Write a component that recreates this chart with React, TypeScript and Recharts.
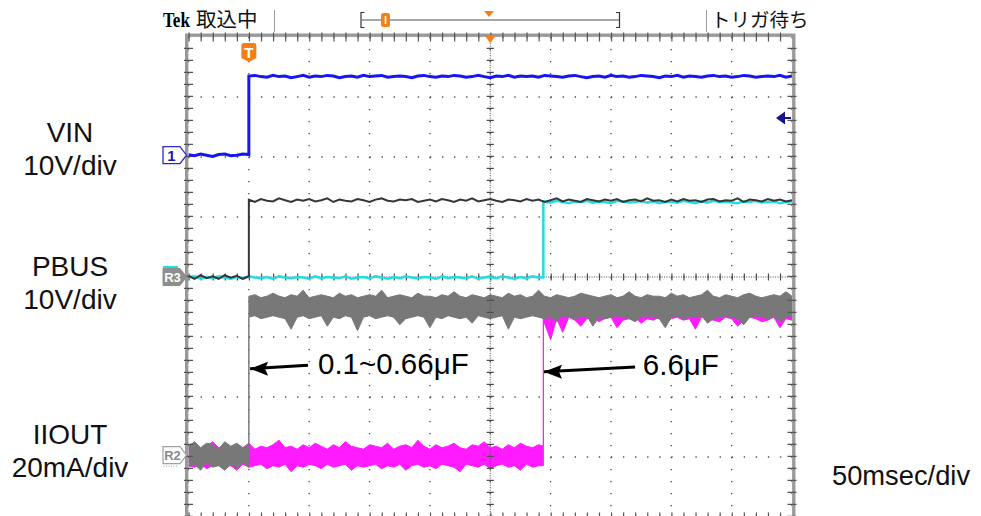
import React from "react";
import {
  ComposedChart,
  Line,
  Area,
  XAxis,
  YAxis,
  CartesianGrid,
  ReferenceLine,
  ReferenceDot,
  ReferenceArea,
} from "recharts";

// ---------- time samples (ms, trigger at 0) ----------
const T_BEFORE = [-50, -45, -40, -35, -30, -25, -20, -15, -10, -5, 0];
const T_AFTER = [
  0, 5, 10, 15, 20, 25, 30, 35, 40, 45, 50, 55, 60, 65, 70, 75, 80, 85, 90, 95,
  100, 105, 110, 115, 120, 125, 130, 135, 140, 145, 150, 155, 160, 165, 170, 175,
  180, 185, 190, 195, 200, 205, 210, 215, 220, 225, 230, 235, 240, 245, 250, 255,
  260, 265, 270, 275, 280, 285, 290, 295, 300, 305, 310, 315, 320, 325, 330, 335,
  340, 345, 350, 355, 360, 365, 370, 375, 380, 385, 390, 395, 400, 405, 410, 415,
  420, 425, 430, 435, 440, 445, 450,
];
const T_LOW2 = [
  -50, -45, -40, -35, -30, -25, -20, -15, -10, -5, 0, 5, 10, 15, 20, 25, 30, 35,
  40, 45, 50, 55, 60, 65, 70, 75, 80, 85, 90, 95, 100, 105, 110, 115, 120, 125,
  130, 135, 140, 145, 150, 155, 160, 165, 170, 175, 180, 185, 190, 195, 200, 205,
  210, 215, 220, 225, 230, 235, 240, 244,
];
const T_HIGH2 = [
  244, 250, 255, 260, 265, 270, 275, 280, 285, 290, 295, 300, 305, 310, 315, 320,
  325, 330, 335, 340, 345, 350, 355, 360, 365, 370, 375, 380, 385, 390, 395, 400,
  405, 410, 415, 420, 425, 430, 435, 440, 445, 450,
];

// ---------- VIN (CH1, V) ----------
const VIN_LOW = [0.1, -0.1, 0.2, 0, -0.2, 0.1, 0.2, -0.1, 0, 0.2, 0.1];
const VIN_HIGH = [
  13.2, 13.3, 13.1, 13.0, 13.3, 13.1, 13.2, 12.9, 13.1, 13.3,
  13.0, 13.2, 13.1, 13.3, 13.2, 12.9, 13.1, 13.2, 13.0, 13.3,
  13.1, 13.2, 13.3, 13.0, 13.1, 13.2, 13.1, 12.9, 13.2, 13.3,
  13.1, 13.0, 13.2, 13.1, 13.3, 13.2, 13.0, 13.1, 13.3, 13.1,
  12.9, 13.2, 13.1, 13.3, 13.0, 13.2, 13.1, 13.2, 13.0, 13.3,
  13.2, 13.1, 13.0, 13.2, 13.3, 13.1, 12.9, 13.1, 13.2, 13.0,
  13.3, 13.1, 13.2, 13.0, 13.1, 13.3, 13.2, 13.1, 12.9, 13.2,
  13.1, 13.3, 13.0, 13.2, 13.1, 13.0, 13.2, 13.3, 13.1, 13.2,
  13.0, 13.1, 13.3, 13.2, 13.0, 13.1, 13.2, 13.1, 13.3, 13.0,
  13.2,
];

// ---------- PBUS, reference R3 (V) ----------
const R3_LOW = [0.2, -0.3, 0.3, -0.2, 0.1, -0.3, 0.3, -0.1, 0.2, -0.3, 0.1];
const R3_HIGH = [
  12.9, 12.5, 13.0, 12.7, 12.6, 13.1, 12.8, 12.5, 12.9, 12.7,
  13.0, 12.6, 12.8, 13.1, 12.5, 12.9, 12.7, 12.6, 13.0, 12.8,
  12.5, 12.9, 13.1, 12.7, 12.6, 12.9, 12.8, 13.0, 12.5, 12.7,
  12.9, 12.6, 13.0, 12.8, 12.5, 12.9, 12.7, 13.1, 12.6, 12.8,
  13.0, 12.7, 12.5, 12.9, 12.8, 12.6, 13.0, 12.7, 12.9, 12.5,
  12.8, 13.1, 12.6, 12.9, 12.7, 12.5, 13.0, 12.8, 12.6, 12.9,
  12.7, 13.0, 12.5, 12.8, 12.9, 12.6, 13.1, 12.7, 12.8, 12.5,
  12.9, 12.6, 13.0, 12.7, 12.8, 12.5, 12.9, 13.0, 12.6, 12.8,
  12.7, 13.1, 12.5, 12.9, 12.8, 12.6, 13.0, 12.7, 12.9, 12.6,
  12.8,
];

// ---------- PBUS, live 6.6uF (V) ----------
const CYAN_LOW = [
  -0.1, 0.1, -0.3, 0.0, -0.2, 0.1, -0.1, -0.3, 0.0, -0.2,
  0.1, -0.1, -0.2, 0.0, -0.3, 0.1, -0.1, -0.2, 0.0, -0.1,
  -0.3, 0.1, -0.2, 0.0, -0.1, -0.2, 0.1, -0.3, -0.1, 0.0,
  -0.2, 0.1, -0.1, -0.3, 0.0, -0.2, 0.1, -0.1, -0.2, 0.0,
  -0.1, -0.3, 0.1, -0.2, 0.0, -0.1, -0.2, 0.1, -0.3, -0.1,
  0.0, -0.2, 0.1, -0.1, -0.3, 0.0, -0.2, 0.1, -0.1, -0.1,
];
const CYAN_HIGH = [
  12.6, 12.4, 12.7, 12.5, 12.3, 12.6, 12.5, 12.7, 12.4, 12.6,
  12.5, 12.3, 12.7, 12.6, 12.4, 12.5, 12.7, 12.4, 12.6, 12.3,
  12.5, 12.6, 12.4, 12.7, 12.5, 12.3, 12.6, 12.4, 12.7, 12.5,
  12.6, 12.4, 12.3, 12.6, 12.5, 12.7, 12.4, 12.5, 12.6, 12.3,
  12.5, 12.6,
];

// ---------- IIOUT, reference R2 (mA, noise envelope) ----------
const R2_LO_LOW = [-4, -3, -5, -2.5, -4, -3.5, -5, -3, -4.5, -2.5, -4];
const R2_HI_LOW = [3, 4.5, 2.5, 4, 3.5, 2, 4.5, 3, 4, 2.5, 3.5];
const R2_LO_HIGH = [
  46.0, 46.5, 45.5, 46.0, 46.5, 46.0, 45.5, 42.0, 46.0, 46.5,
  45.5, 46.0, 46.5, 43.0, 46.0, 45.5, 46.5, 46.0, 41.5, 46.0,
  46.5, 45.5, 46.0, 46.5, 46.0, 43.5, 45.5, 46.0, 46.5, 46.0,
  42.5, 46.0, 45.5, 46.5, 46.0, 45.5, 46.0, 44.0, 46.5, 46.0,
  45.5, 46.0, 46.5, 42.0, 46.0, 45.5, 46.0, 46.5, 46.0, 45.5,
  46.0, 44.5, 46.5, 46.0, 45.5, 46.0, 46.5, 43.0, 46.0, 45.5,
  46.0, 46.5, 46.0, 45.5, 44.5, 46.0, 46.5, 46.0, 45.5, 42.5,
  46.0, 46.5, 45.5, 46.0, 46.0, 46.5, 44.0, 45.5, 46.0, 46.5,
  46.0, 45.5, 43.5, 46.0, 46.5, 46.0, 45.5, 46.0, 44.5, 46.0,
  46.5,
];
const R2_HI_HIGH = [
  53.0, 53.5, 52.5, 53.0, 54.0, 53.0, 52.5, 53.5, 53.0, 55.0,
  52.5, 53.0, 53.5, 53.0, 52.5, 54.0, 53.0, 53.5, 52.5, 53.0,
  53.5, 53.0, 55.0, 52.5, 53.0, 53.5, 53.0, 52.5, 54.0, 53.0,
  53.0, 52.5, 53.5, 53.0, 54.5, 53.0, 52.5, 53.5, 53.0, 52.5,
  53.5, 53.0, 52.5, 54.0, 53.0, 53.5, 52.5, 53.0, 55.0, 53.0,
  52.5, 53.5, 53.0, 52.5, 53.0, 54.0, 53.5, 53.0, 52.5, 53.0,
  53.5, 52.5, 53.0, 54.5, 53.0, 52.5, 53.5, 53.0, 53.0, 52.5,
  54.0, 53.0, 53.5, 52.5, 53.0, 53.5, 55.0, 53.0, 52.5, 53.5,
  53.0, 52.5, 53.5, 54.0, 53.0, 52.5, 53.0, 53.5, 53.0, 54.5,
  53.0,
];

// ---------- IIOUT, live 6.6uF (mA, noise envelope) ----------
const MAG_LO_LOW = [
  -3.5, -4.0, -3.0, -4.5, -3.5, -3.0, -4.0, -3.5, -5.0, -3.0,
  -4.0, -3.5, -3.0, -4.5, -3.5, -4.0, -3.0, -5.5, -3.5, -4.0,
  -3.0, -3.5, -4.5, -3.0, -4.0, -3.5, -3.0, -5.0, -3.5, -4.0,
  -3.5, -3.0, -4.5, -3.5, -4.0, -3.0, -5.0, -3.5, -3.0, -4.0,
  -3.5, -4.5, -3.0, -3.5, -4.0, -5.5, -3.0, -3.5, -4.0, -3.0,
  -4.5, -3.5, -3.0, -4.0, -3.5, -5.0, -3.0, -4.0, -3.5, -3.5,
];
const MAG_HI_LOW = [
  2.5, 3.5, 2.0, 3.0, 4.5, 2.5, 3.0, 2.0, 3.5, 2.5,
  4.0, 2.0, 3.0, 2.5, 3.5, 5.0, 2.5, 3.0, 2.0, 3.5,
  2.5, 4.0, 3.0, 2.0, 3.5, 2.5, 4.5, 3.0, 2.5, 2.0,
  3.5, 3.0, 2.5, 4.0, 2.0, 3.0, 3.5, 2.5, 5.0, 3.0,
  2.0, 3.5, 2.5, 3.0, 4.0, 2.5, 2.0, 3.5, 3.0, 4.5,
  2.5, 3.0, 2.0, 3.5, 2.5, 4.0, 3.0, 2.5, 3.5, 3.0,
];
const MAG_LO_HIGH = [
  45.0, 38.5, 45.5, 41.0, 46.0, 45.0, 43.0, 45.5, 46.0, 44.5,
  45.5, 46.0, 42.5, 45.0, 45.5, 46.0, 44.0, 45.5, 45.0, 46.0,
  43.5, 45.5, 46.0, 45.0, 45.5, 42.0, 46.0, 45.5, 45.0, 44.5,
  46.0, 45.5, 43.0, 45.0, 46.0, 45.5, 44.5, 45.0, 46.0, 42.5,
  45.5, 45.0,
];
const MAG_HI_HIGH = [
  50.5, 52.0, 51.0, 53.0, 50.0, 51.5, 50.5, 52.5, 51.0, 50.0,
  51.5, 50.5, 52.0, 51.0, 50.5, 53.0, 50.0, 51.5, 51.0, 52.0,
  50.5, 51.0, 52.5, 50.0, 51.5, 50.5, 51.0, 52.0, 50.5, 51.5,
  53.0, 50.0, 51.0, 51.5, 50.5, 52.0, 51.0, 50.5, 51.5, 50.0,
  51.0, 50.5,
];

// ---------- axes / scope settings ----------
const X_DOMAIN: [number, number] = [-50, 450]; // 50 ms/div, 10 div
const X_DIVS = [-50, 0, 50, 100, 150, 200, 250, 300, 350, 400, 450];
const Y_DIVS = [-4, -3, -2, -1, 0, 1, 2, 3, 4];
const DIV_DOMAIN: [number, number] = [-4, 4];
const VIN_DOMAIN: [number, number] = [-60.3, 19.7]; // 10 V/div
const PBUS_DOMAIN: [number, number] = [-40, 40]; // 10 V/div
const IOUT_DOMAIN: [number, number] = [-20.6, 139.4]; // 20 mA/div
const TRIG_LEVEL_V = 6.2;
const STEP2_MS = 244;

const CHANNEL_LABELS = [
  { name: "VIN", scale: "10V/div" },
  { name: "PBUS", scale: "10V/div" },
  { name: "IIOUT", scale: "20mA/div" },
];
const TIMEBASE_LABEL = "50msec/div";
const NOTES = [
  { text: "0.1~0.66μF", tip: { x: 1, y: -1.53 }, tail: { x: 49, y: -1.47 }, at: { x: 57.3, y: -1.62 } },
  { text: "6.6μF", tip: { x: STEP2_MS + 0.5, y: -1.58 }, tail: { x: 320, y: -1.5 }, at: { x: 326.4, y: -1.63 } },
];

// ---------- styling ----------
const BLUE = "#1616f2";
const DARK = "#363636";
const CYAN = "#1fdde3";
const GRAY = "#787878";
const MAGENTA = "#ff1aff";
const ORANGE = "#f57f17";
const NAVY = "#15158c";
const DOT = "#4a4a4a";
const SANS = "'Liberation Sans', Arial, sans-serif";
const CJK = "'Noto Sans CJK JP', sans-serif";

const pts = (ts: number[], vs: number[]) => ts.map((t, i) => ({ t, v: vs[i] }));
const band = (ts: number[], lo: number[], hi: number[]) =>
  ts.map((t, i) => ({ t, r: [lo[i], hi[i]] }));

const vinData = [...pts(T_BEFORE, VIN_LOW), ...pts(T_AFTER, VIN_HIGH)];
const r3Data = [...pts(T_BEFORE, R3_LOW), ...pts(T_AFTER, R3_HIGH)];
const cyanData = [...pts(T_LOW2, CYAN_LOW), ...pts(T_HIGH2, CYAN_HIGH)];
const r2Data = [...band(T_BEFORE, R2_LO_LOW, R2_HI_LOW), ...band(T_AFTER, R2_LO_HIGH, R2_HI_HIGH)];
const magData = [...band(T_LOW2, MAG_LO_LOW, MAG_HI_LOW), ...band(T_HIGH2, MAG_LO_HIGH, MAG_HI_HIGH)];

const pentagon = (cx: number, cy: number) =>
  `${cx - 25.5},${cy - 8.5} ${cx - 8.5},${cy - 8.5} ${cx - 2},${cy} ${cx - 8.5},${cy + 8.5} ${cx - 25.5},${cy + 8.5}`;

const Ch1Marker = (p: any) => (
  <g>
    <polygon points={pentagon(p.cx, p.cy)} fill="#fff" stroke="#2a2ac8" strokeWidth={1.3} />
    <text x={p.cx - 17} y={p.cy + 6} textAnchor="middle" fontFamily={SANS} fontWeight="bold" fontSize={15} fill="#1a1aa8">1</text>
  </g>
);
const R3Marker = (p: any) => (
  <g>
    <rect x={p.cx - 25.5} y={p.cy - 11} width={15} height={2} fill={CYAN} />
    <polygon points={pentagon(p.cx, p.cy)} fill="#8e8e8e" stroke="#8e8e8e" strokeWidth={1} />
    <text x={p.cx - 16} y={p.cy + 5} textAnchor="middle" fontFamily={SANS} fontWeight="bold" fontSize={13} fill="#fff">R3</text>
  </g>
);
const R2Marker = (p: any) => (
  <g>
    <polygon points={pentagon(p.cx, p.cy)} fill="#fff" stroke="#a0a0a0" strokeWidth={1.2} />
    <text x={p.cx - 16} y={p.cy + 5} textAnchor="middle" fontFamily={SANS} fontWeight="bold" fontSize={13} fill="#8a8a8a">R2</text>
    <line x1={p.cx - 25} y1={p.cy + 11} x2={p.cx - 10} y2={p.cy + 11} stroke="#a0a0a0" strokeDasharray="1 1.5" />
  </g>
);
const TrigMarker = (p: any) => (
  <g>
    <path
      d={`M${p.cx - 7.5} ${p.cy + 9} Q${p.cx - 7.5} ${p.cy + 6} ${p.cx - 5} ${p.cy + 6} H${p.cx + 5} Q${p.cx + 7.5} ${p.cy + 6} ${p.cx + 7.5} ${p.cy + 9} V${p.cy + 21} L${p.cx} ${p.cy + 25} L${p.cx - 7.5} ${p.cy + 21} Z`}
      fill={ORANGE}
    />
    <text x={p.cx} y={p.cy + 21} textAnchor="middle" fontFamily={SANS} fontWeight="bold" fontSize={15} fill="#fff">T</text>
  </g>
);
const PosMarker = (p: any) => (
  <polygon points={`${p.cx - 6},${p.cy - 2} ${p.cx + 6},${p.cy - 2} ${p.cx},${p.cy + 6}`} fill={ORANGE} />
);
const LevelMarker = (p: any) => (
  <g>
    <polygon points={`${p.cx - 16},${p.cy} ${p.cx - 7},${p.cy - 6.5} ${p.cx - 7},${p.cy + 6.5}`} fill={NAVY} />
    <line x1={p.cx - 8} y1={p.cy} x2={p.cx - 1} y2={p.cy} stroke={NAVY} strokeWidth={2} />
  </g>
);
const ArrowHead = (p: any) => (
  <polygon points={`${p.cx},${p.cy} ${p.cx + 18},${p.cy - 7} ${p.cx + 15},${p.cy} ${p.cx + 18},${p.cy + 7}`} fill="#000" />
);
const noteText = (text: string) => (p: any) => (
  <text x={p.cx} y={p.cy} fontFamily={SANS} fontSize={29.5} fill="#000">{text}</text>
);
const Frame = (p: any) => (
  <rect x={p.x - 1.8} y={p.y - 1.8} width={p.width + 3.6} height={p.height + 3.6} fill="none" stroke="#9a9a9a" strokeWidth={3.4} />
);

export default function App() {
  return (
    <div style={{ position: "absolute", left: 0, top: 0, width: 981, height: 516, overflow: "hidden", background: "#fff" }}>
      <ComposedChart
        width={981}
        height={540}
        margin={{ top: 37, right: 189, bottom: 23, left: 188.5 }}
        style={{ position: "absolute", left: 0, top: 0 }}
      >
        <XAxis xAxisId="t" type="number" dataKey="t" domain={X_DOMAIN} ticks={X_DIVS} interval={0} allowDataOverflow hide />
        <YAxis yAxisId="div" type="number" domain={DIV_DOMAIN} ticks={Y_DIVS} interval={0} allowDataOverflow hide />
        <YAxis yAxisId="vin" type="number" domain={VIN_DOMAIN} allowDataOverflow hide />
        <YAxis yAxisId="pbus" type="number" domain={PBUS_DOMAIN} allowDataOverflow hide />
        <YAxis yAxisId="iout" type="number" domain={IOUT_DOMAIN} allowDataOverflow hide />

        <CartesianGrid xAxisId="t" yAxisId="div" vertical={false} horizontalValues={Y_DIVS} stroke={DOT} strokeWidth={1.3} strokeDasharray="1.3 10.77" />
        <CartesianGrid xAxisId="t" yAxisId="div" horizontal={false} verticalValues={X_DIVS} stroke={DOT} strokeWidth={1.3} strokeDasharray="1.3 10.7" />

        {/* centre cross with fine dots and minor ticks */}
        <ReferenceLine xAxisId="t" yAxisId="div" x={200} stroke={DOT} strokeWidth={1} strokeDasharray="1 1.4" />
        <ReferenceLine xAxisId="t" yAxisId="div" x={200} stroke={DOT} strokeWidth={7} strokeDasharray="1.2 10.8" />
        <ReferenceLine xAxisId="t" yAxisId="div" y={0} stroke={DOT} strokeWidth={1} strokeDasharray="1 1.414" />
        <ReferenceLine xAxisId="t" yAxisId="div" y={0} stroke={DOT} strokeWidth={7} strokeDasharray="1.2 10.87" />
        {/* border minor ticks */}
        <ReferenceLine xAxisId="t" yAxisId="div" x={-50} stroke="#555" strokeWidth={9} strokeDasharray="1.2 10.8" />
        <ReferenceLine xAxisId="t" yAxisId="div" x={450} stroke="#555" strokeWidth={9} strokeDasharray="1.2 10.8" />
        <ReferenceLine xAxisId="t" yAxisId="div" y={4} stroke="#555" strokeWidth={9} strokeDasharray="1.2 10.87" />
        <ReferenceLine xAxisId="t" yAxisId="div" y={-4} stroke="#555" strokeWidth={9} strokeDasharray="1.2 10.87" />
        <ReferenceArea xAxisId="t" yAxisId="div" x1={-50} x2={450} y1={-4} y2={4} shape={Frame} />

        {/* traces */}
        <Line data={cyanData} dataKey="v" xAxisId="t" yAxisId="pbus" type="linear" stroke={CYAN} strokeWidth={2.5} dot={false} activeDot={false} isAnimationActive={false} />
        <Area data={magData} dataKey="r" xAxisId="t" yAxisId="iout" type="linear" stroke={MAGENTA} strokeWidth={1} fill={MAGENTA} fillOpacity={1} dot={false} activeDot={false} isAnimationActive={false} />
        <Line data={r3Data} dataKey="v" xAxisId="t" yAxisId="pbus" type="linear" stroke={DARK} strokeWidth={2} dot={false} activeDot={false} isAnimationActive={false} />
        <Area data={r2Data} dataKey="r" xAxisId="t" yAxisId="iout" type="linear" stroke={GRAY} strokeWidth={1} fill={GRAY} fillOpacity={1} dot={false} activeDot={false} isAnimationActive={false} />
        <Line data={vinData} dataKey="v" xAxisId="t" yAxisId="vin" type="linear" stroke={BLUE} strokeWidth={3} dot={false} activeDot={false} isAnimationActive={false} />

        {/* scope markers */}
        <ReferenceDot xAxisId="t" yAxisId="vin" x={-50} y={0} shape={Ch1Marker} />
        <ReferenceDot xAxisId="t" yAxisId="pbus" x={-50} y={0} shape={R3Marker} />
        <ReferenceDot xAxisId="t" yAxisId="iout" x={-50} y={0} shape={R2Marker} />
        <ReferenceDot xAxisId="t" yAxisId="div" x={0} y={4} shape={TrigMarker} />
        <ReferenceDot xAxisId="t" yAxisId="div" x={200} y={4} shape={PosMarker} />
        <ReferenceDot xAxisId="t" yAxisId="vin" x={450} y={TRIG_LEVEL_V} shape={LevelMarker} />

        {/* annotations */}
        {NOTES.map((n) => (
          <ReferenceLine
            key={"s" + n.text}
            xAxisId="t"
            yAxisId="div"
            segment={[n.tip, n.tail]}
            stroke="#000"
            strokeWidth={3}
          />
        ))}
        {NOTES.map((n) => (
          <ReferenceDot key={"h" + n.text} xAxisId="t" yAxisId="div" x={n.tip.x} y={n.tip.y} shape={ArrowHead} />
        ))}
        {NOTES.map((n) => (
          <ReferenceDot key={"t" + n.text} xAxisId="t" yAxisId="div" x={n.at.x} y={n.at.y} shape={noteText(n.text)} />
        ))}
      </ComposedChart>

      <svg width={981} height={516} style={{ position: "absolute", left: 0, top: 0, pointerEvents: "none" }}>
        {/* status bar */}
        <text x={163} y={27} fontFamily="'Liberation Serif', serif" fontWeight="bold" fontSize={20} textLength={27} lengthAdjust="spacingAndGlyphs" fill="#000">Tek</text>
        <text x={196} y={27} fontFamily={CJK} fontSize={20.5} fill="#111">取込中</text>
        <line x1={274.5} y1={10} x2={274.5} y2={32} stroke="#9a9a9a" strokeWidth={1} />
        <path d="M364.5 12.5 H361 V27.5 H364.5" stroke="#333" strokeWidth={1.2} fill="none" />
        <line x1={362} y1={20} x2={619} y2={20} stroke="#8a8a8a" strokeWidth={1.6} />
        <path d="M616 12.5 H619.5 V27.5 H616" stroke="#333" strokeWidth={1.2} fill="none" />
        <rect x={381} y={13} width={9} height={14} rx={2.5} fill={ORANGE} />
        <line x1={385.5} y1={16} x2={385.5} y2={24} stroke="#fff" strokeWidth={1.6} />
        <polygon points="484,11 494,11 489,17" fill={ORANGE} />
        <line x1={706.5} y1={10} x2={706.5} y2={32} stroke="#9a9a9a" strokeWidth={1} />
        <text x={711} y={27} fontFamily={CJK} fontSize={19.5} fill="#111">トリガ待ち</text>

        {/* channel labels */}
        {CHANNEL_LABELS.map((c, i) => {
          const base = [142, 276, 444][i];
          return (
            <g key={c.name}>
              <text x={70} y={base} textAnchor="middle" fontFamily={SANS} fontSize={28} fill="#111">{c.name}</text>
              <text x={70} y={base + 33} textAnchor="middle" fontFamily={SANS} fontSize={28} fill="#111">{c.scale}</text>
            </g>
          );
        })}
        <text x={832} y={485} fontFamily={SANS} fontSize={27.3} fill="#111">{TIMEBASE_LABEL}</text>
      </svg>
    </div>
  );
}
